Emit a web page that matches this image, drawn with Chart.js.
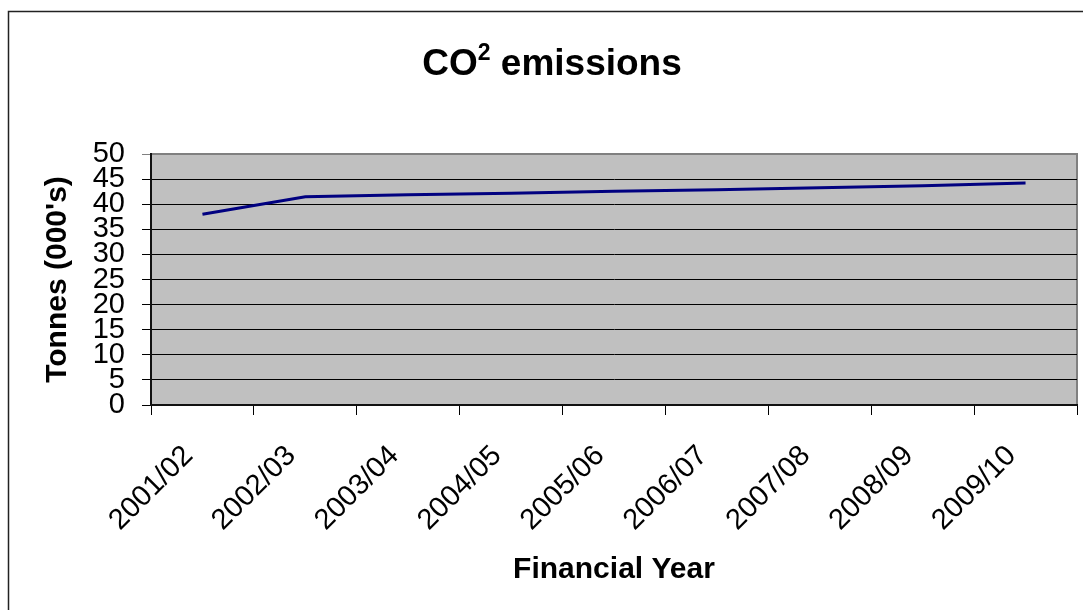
<!DOCTYPE html>
<html>
<head>
<meta charset="utf-8">
<title>CO2 emissions</title>
<script src="https://cdn.jsdelivr.net/npm/chart.js@4/dist/chart.umd.min.js"></script>
<style>
	html, body { margin: 0; padding: 0; background: #ffffff; }
	#co2-chart { display: block; }
</style>
</head>
<body>
<canvas id="co2-chart" width="1083" height="610"></canvas>
<script>
const years = ["2001/02", "2002/03", "2003/04", "2004/05", "2005/06", "2006/07", "2007/08", "2008/09", "2009/10"];
const tonnes = [38.0, 41.5, 41.9, 42.2, 42.6, 42.9, 43.3, 43.7, 44.2];

const chartFont = "'Liberation Sans', Arial, sans-serif";

// gray plot area, thin frame round the plot and the outer chart border
const plotFrame = {
	id: "plotFrame",
	beforeDraw(chart) {
		const { ctx, chartArea: a } = chart;
		ctx.save();
		ctx.fillStyle = "#c0c0c0";
		ctx.fillRect(a.left, a.top, a.right - a.left, a.bottom - a.top);
		ctx.strokeStyle = "#808080";
		ctx.lineWidth = 2;
		ctx.strokeRect(a.left, a.top, a.right - a.left, a.bottom - a.top);
		ctx.strokeStyle = "#222";
		ctx.lineWidth = 1.5;
		ctx.beginPath();
		ctx.moveTo(8.5, 610);
		ctx.lineTo(8.5, 11.5);
		ctx.lineTo(1083, 11.5);
		ctx.stroke();
		ctx.restore();
	}
};

// title with a raised "2"
const co2Title = {
	id: "co2Title",
	afterDraw(chart) {
		const ctx = chart.ctx;
		const big = `bold 37px ${chartFont}`;
		const small = `bold 23px ${chartFont}`;
		ctx.save();
		ctx.fillStyle = "#000";
		ctx.textBaseline = "alphabetic";
		ctx.font = big;
		const wCO = ctx.measureText("CO").width;
		const wRest = ctx.measureText(" emissions").width;
		ctx.font = small;
		const w2 = ctx.measureText("2").width;
		let x = 552 - (wCO + w2 + wRest) / 2;
		const y = 75;
		ctx.font = big;
		ctx.fillText("CO", x, y);
		x += wCO;
		ctx.font = small;
		ctx.fillText("2", x, y - 15);
		x += w2;
		ctx.font = big;
		ctx.fillText(" emissions", x, y);
		ctx.restore();
	}
};

new Chart(document.getElementById("co2-chart"), {
	type: "line",
	data: {
		labels: years,
		datasets: [
			{
				data: tonnes,
				borderColor: "#000080",
				borderWidth: 3,
				pointRadius: 0,
				tension: 0,
				fill: false
			}
		]
	},
	options: {
		responsive: false,
		animation: false,
		layout: { padding: { top: 154, right: 6, left: 0, bottom: 0 } },
		plugins: {
			legend: { display: false },
			tooltip: { enabled: false }
		},
		scales: {
			x: {
				offset: true,
				grid: { offset: true, drawOnChartArea: false, color: "#000", tickLength: 10, tickWidth: 1 },
				border: { color: "#111", width: 2 },
				ticks: {
					autoSkip: false,
					minRotation: 45,
					maxRotation: 45,
					padding: 24,
					labelOffset: -14,
					color: "#000",
					font: { family: chartFont, size: 29 }
				},
				title: {
					display: true,
					text: "Financial Year",
					color: "#000",
					font: { family: chartFont, size: 30, weight: "bold" },
					padding: { top: 0, bottom: 22 }
				},
				afterFit(scale) {
					scale.height = 205;
				}
			},
			y: {
				min: 0,
				max: 50,
				grid: {
					color: (c) => (c.tick && c.tick.value === 50 ? "#808080" : "#000"),
					tickLength: 9,
					lineWidth: 1
				},
				border: { color: "#111", width: 2 },
				ticks: {
					stepSize: 5,
					autoSkip: false,
					padding: 17,
					color: "#000",
					font: { family: chartFont, size: 29, lineHeight: 1 }
				},
				title: {
					display: true,
					text: "Tonnes (000's)",
					color: "#000",
					font: { family: chartFont, size: 30, weight: "bold" },
					padding: { top: 40, bottom: 0 }
				},
				afterFit(scale) {
					scale.width = 151;
				}
			}
		}
	},
	plugins: [plotFrame, co2Title]
});
</script>
</body>
</html>
